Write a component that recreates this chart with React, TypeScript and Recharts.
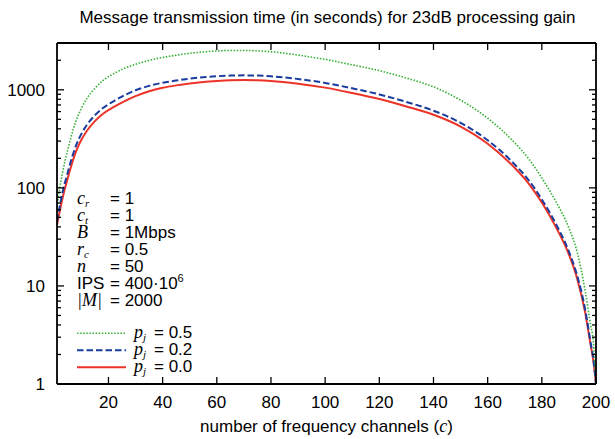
import React from 'react';
import { LineChart, Line, XAxis, YAxis, Customized } from 'recharts';

// ---- data ----
const C_VALUES = [1, 2, 3, 4, 5, 6, 8, 10, 12, 15, 18, 22, 26, 30, 35, 40, 45, 50, 55, 60, 65, 70, 75, 80, 90, 100, 110, 120, 130, 140, 150, 160, 170, 175, 180, 185, 190, 193, 196, 198, 199, 200];
const PJ_00 = [41.7, 57.5, 77.6, 100, 125.9, 158.5, 234.4, 309, 380, 478.6, 568.9, 668.3, 767.4, 861, 966, 1047, 1109, 1161, 1202, 1230, 1250, 1256, 1250, 1230, 1153, 1052, 927, 804, 676, 556, 422, 282, 160, 112, 70.8, 40.7, 20.9, 12.0, 5.37, 2.51, 1.74, 1];
const PJ_02 = [45.7, 64.6, 89.1, 114.8, 144.5, 182, 269, 355, 437, 550, 653, 767, 881, 989, 1096, 1180, 1242, 1297, 1343, 1374, 1396, 1403, 1396, 1374, 1288, 1175, 1035, 897, 752, 612, 461, 306, 173, 121, 76.2, 43.9, 22.4, 12.9, 5.75, 2.66, 1.82, 1];
const PJ_05 = [64.6, 100, 141, 190.5, 245.5, 316, 479, 646, 813, 1035, 1245, 1462, 1660, 1820, 1995, 2138, 2254, 2355, 2432, 2489, 2518, 2518, 2495, 2443, 2259, 2042, 1795, 1567, 1318, 1072, 785, 513, 288, 200, 126, 74, 38.9, 22.4, 8.9, 4.0, 2.75, 1];

const X_TICKS = [20, 40, 60, 80, 100, 120, 140, 160, 180, 200];
const Y_MAJOR = [1, 10, 100, 1000];
const Y_MINOR = [2, 3, 4, 5, 6, 7, 8, 9, 20, 30, 40, 50, 60, 70, 80, 90, 200, 300, 400, 500, 600, 700, 800, 900, 2000];
const Y_TICKS = [...Y_MAJOR, ...Y_MINOR].sort((a, b) => a - b);

const TITLE = 'Message transmission time (in seconds) for 23dB processing gain';
const X_LABEL = 'number of frequency channels (';

const INFO_ROWS = [
  { v: 'c', sub: 'r', italic: true, val: '= 1', sup: '' },
  { v: 'c', sub: 't', italic: true, val: '= 1', sup: '' },
  { v: 'B', sub: '', italic: true, val: '= 1Mbps', sup: '' },
  { v: 'r', sub: 'c', italic: true, val: '= 0.5', sup: '' },
  { v: 'n', sub: '', italic: true, val: '= 50', sup: '' },
  { v: 'IPS', sub: '', italic: false, val: '= 400·10', sup: '6' },
  { v: '|M|', sub: '', italic: true, val: '= 2000', sup: '' },
];

const LEGEND = [
  { label: '0.5', color: '#33b033', dash: '1.5 1.6', width: 1.6 },
  { label: '0.2', color: '#1a3c9c', dash: '6.5 3', width: 2 },
  { label: '0.0', color: '#ec3328', dash: undefined, width: 2 },
];

const data = C_VALUES.map((c, i) => ({ c, p00: PJ_00[i], p02: PJ_02[i], p05: PJ_05[i] }));

// ---- layout ----
const W = 615;
const H = 439;
const LEFT_W = 57;
const RIGHT_W = 19;
const TOP_H = 43;
const BOTTOM_H = 55;
const PLOT_L = LEFT_W;
const PLOT_T = TOP_H;
const PLOT_R = W - RIGHT_W;

const SANS = "'Liberation Sans', Arial, Helvetica, sans-serif";
const SERIF = "'Liberation Serif', 'Times New Roman', serif";
const FS = 17;
const MAJ = 7;
const MIN = 4;
const TICK_STROKE = { stroke: '#000', strokeWidth: 1.3 };
const AXIS_LINE = { stroke: '#000', strokeWidth: 1.8 };

const LeftTick = (p: any) => {
  const v = p.payload.value;
  const major = Y_MAJOR.includes(v);
  return (
    <g>
      <line x1={p.x} x2={p.x + (major ? MAJ : MIN)} y1={p.y} y2={p.y} {...TICK_STROKE} />
      {major && (
        <text x={p.x - 12} y={p.y} dy="0.36em" textAnchor="end" fontFamily={SANS} fontSize={FS} fill="#000">
          {v}
        </text>
      )}
    </g>
  );
};

const RightTick = (p: any) => {
  const v = p.payload.value;
  const major = Y_MAJOR.includes(v);
  return <line x1={p.x} x2={p.x - (major ? MAJ : MIN)} y1={p.y} y2={p.y} {...TICK_STROKE} />;
};

const BottomTick = (p: any) => (
  <g>
    <line x1={p.x} x2={p.x} y1={p.y} y2={p.y - MAJ} {...TICK_STROKE} />
    <text x={p.x} y={p.y + 24} textAnchor="middle" fontFamily={SANS} fontSize={FS} fill="#000">
      {p.payload.value}
    </text>
  </g>
);

const TopTick = (p: any) => <line x1={p.x} x2={p.x} y1={p.y} y2={p.y + MAJ} {...TICK_STROKE} />;

const Annotations = () => {
  const x0 = PLOT_L + 20;
  const xEq = PLOT_L + 53;
  const base0 = PLOT_T + 160.5;
  const step = 17.1;
  const legBase0 = PLOT_T + 294.7;
  const legStep = 17;
  return (
    <g>
      <text x={(PLOT_L + PLOT_R) / 2 + 1} y={23} textAnchor="middle" fontFamily={SANS} fontSize={FS} fill="#000">
        {TITLE}
      </text>
      <text x={(PLOT_L + PLOT_R) / 2} y={432} textAnchor="middle" fontFamily={SANS} fontSize={FS} fill="#000">
        {X_LABEL}
        <tspan fontFamily={SERIF} fontStyle="italic" fontSize={18}>c</tspan>
        <tspan>)</tspan>
      </text>
      <text fill="#000" fontFamily={SANS} fontSize={FS}>
        {INFO_ROWS.map((r, i) => {
          const y = base0 + i * step;
          return (
            <React.Fragment key={i}>
              <tspan
                x={x0}
                y={y}
                fontSize={r.italic ? 18 : FS}
                fontFamily={r.italic ? SERIF : SANS}
                fontStyle={r.italic ? 'italic' : 'normal'}
              >
                {r.v}
              </tspan>
              {r.sub && (
                <tspan dy={3} fontSize={11} fontFamily={SERIF} fontStyle="italic">
                  {r.sub}
                </tspan>
              )}
              <tspan x={xEq} y={y} fontFamily={SANS} fontStyle="normal" fontSize={FS}>
                {r.val}
              </tspan>
              {r.sup && (
                <tspan dy={-7} fontSize={11}>
                  {r.sup}
                </tspan>
              )}
            </React.Fragment>
          );
        })}
      </text>
      {LEGEND.map((l, i) => {
        const y = legBase0 + i * legStep;
        return (
          <line
            key={l.label}
            x1={x0}
            x2={x0 + 49}
            y1={y - 4.5}
            y2={y - 4.5}
            stroke={l.color}
            strokeWidth={l.width}
            strokeDasharray={l.dash}
          />
        );
      })}
      <text fill="#000" fontFamily={SANS} fontSize={FS}>
        {LEGEND.map((l, i) => {
          const y = legBase0 + i * legStep;
          return (
            <React.Fragment key={l.label}>
              <tspan x={x0 + 57} y={y} fontSize={18} fontFamily={SERIF} fontStyle="italic">
                p
              </tspan>
              <tspan dy={3} fontSize={11} fontFamily={SERIF} fontStyle="italic">
                j
              </tspan>
              <tspan x={x0 + 77} y={y} fontFamily={SANS} fontStyle="normal" fontSize={FS}>
                = {l.label}
              </tspan>
            </React.Fragment>
          );
        })}
      </text>
    </g>
  );
};

export default function App() {
  return (
    <div style={{ position: 'absolute', left: 0, top: 0, width: W, height: H, background: '#fff' }}>
      <LineChart width={W} height={H} data={data} margin={{ top: 0, right: 0, bottom: 0, left: 0 }}>
        <XAxis
          xAxisId="b"
          dataKey="c"
          type="number"
          orientation="bottom"
          domain={[1, 200]}
          allowDataOverflow
          ticks={X_TICKS}
          interval={0}
          height={BOTTOM_H}
          tickSize={0}
          tickMargin={0}
          tickLine={false}
          axisLine={AXIS_LINE}
          tick={<BottomTick />}
        />
        <XAxis
          xAxisId="t"
          dataKey="c"
          type="number"
          orientation="top"
          domain={[1, 200]}
          allowDataOverflow
          ticks={X_TICKS}
          interval={0}
          height={TOP_H}
          tickSize={0}
          tickMargin={0}
          tickLine={false}
          axisLine={AXIS_LINE}
          tick={<TopTick />}
        />
        <YAxis
          yAxisId="l"
          orientation="left"
          scale="log"
          type="number"
          domain={[1, 3000]}
          allowDataOverflow
          ticks={Y_TICKS}
          interval={0}
          width={LEFT_W}
          tickSize={0}
          tickMargin={0}
          tickLine={false}
          axisLine={AXIS_LINE}
          tick={<LeftTick />}
        />
        <YAxis
          yAxisId="r"
          orientation="right"
          scale="log"
          type="number"
          domain={[1, 3000]}
          allowDataOverflow
          ticks={Y_TICKS}
          interval={0}
          width={RIGHT_W}
          tickSize={0}
          tickMargin={0}
          tickLine={false}
          axisLine={AXIS_LINE}
          tick={<RightTick />}
        />
        <Line xAxisId="b" yAxisId="l" type="monotone" dataKey="p00" stroke={LEGEND[2].color} strokeWidth={LEGEND[2].width} dot={false} isAnimationActive={false} />
        <Line xAxisId="b" yAxisId="l" type="monotone" dataKey="p02" stroke={LEGEND[1].color} strokeWidth={LEGEND[1].width} strokeDasharray={LEGEND[1].dash} dot={false} isAnimationActive={false} />
        <Line xAxisId="b" yAxisId="l" type="monotone" dataKey="p05" stroke={LEGEND[0].color} strokeWidth={LEGEND[0].width} strokeDasharray={LEGEND[0].dash} dot={false} isAnimationActive={false} />
        <Customized component={<Annotations />} />
      </LineChart>
    </div>
  );
}
